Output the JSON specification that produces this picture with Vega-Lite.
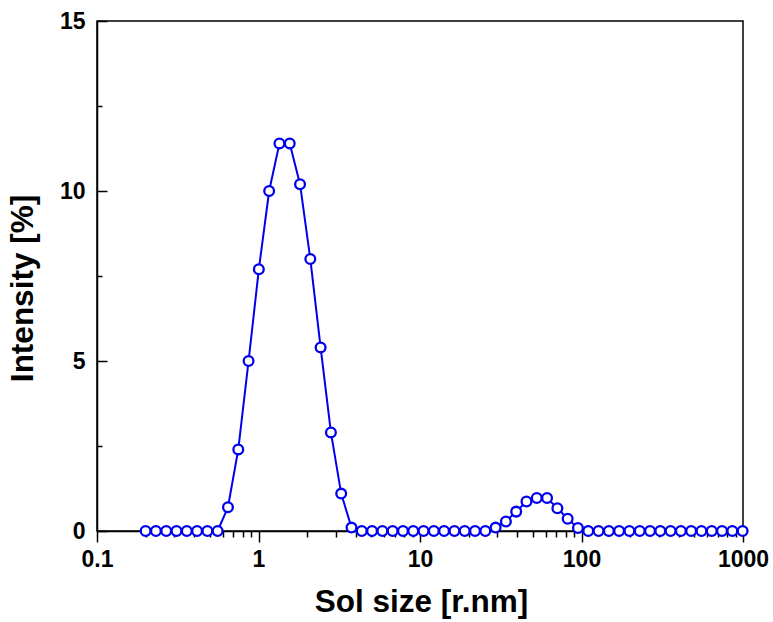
{
  "$schema": "https://vega.github.io/schema/vega-lite/v6.json",
  "width": 646,
  "height": 510,
  "autosize": {"type": "none"},
  "padding": {"left": 97, "top": 21, "right": 30, "bottom": 91},
  "background": "white",
  "config": {
    "view": {"stroke": "black", "strokeWidth": 1.5},
    "axis": {
      "grid": false,
      "domainColor": "black",
      "domainWidth": 1.5,
      "tickColor": "black",
      "tickWidth": 1.5,
      "labelFont": "Liberation Sans",
      "labelFontWeight": "bold",
      "labelFontSize": 23,
      "labelColor": "black",
      "titleFont": "Liberation Sans",
      "titleFontWeight": "bold",
      "titleFontSize": 31.5,
      "titleColor": "black"
    }
  },
  "data": {
    "values": [
      {"size": 0.2, "intensity": 0},
      {"size": 0.2316, "intensity": 0},
      {"size": 0.2683, "intensity": 0},
      {"size": 0.3107, "intensity": 0},
      {"size": 0.3598, "intensity": 0},
      {"size": 0.4166, "intensity": 0},
      {"size": 0.4825, "intensity": 0},
      {"size": 0.5586, "intensity": 0},
      {"size": 0.647, "intensity": 0.7},
      {"size": 0.7495, "intensity": 2.4},
      {"size": 0.868, "intensity": 5.0},
      {"size": 1.005, "intensity": 7.7},
      {"size": 1.164, "intensity": 10.0},
      {"size": 1.348, "intensity": 11.4},
      {"size": 1.561, "intensity": 11.4},
      {"size": 1.808, "intensity": 10.2},
      {"size": 2.093, "intensity": 8.0},
      {"size": 2.424, "intensity": 5.4},
      {"size": 2.808, "intensity": 2.9},
      {"size": 3.251, "intensity": 1.1},
      {"size": 3.766, "intensity": 0.1},
      {"size": 4.361, "intensity": 0},
      {"size": 5.05, "intensity": 0},
      {"size": 5.85, "intensity": 0},
      {"size": 6.77, "intensity": 0},
      {"size": 7.845, "intensity": 0},
      {"size": 9.085, "intensity": 0},
      {"size": 10.52, "intensity": 0},
      {"size": 12.18, "intensity": 0},
      {"size": 14.1, "intensity": 0},
      {"size": 16.34, "intensity": 0},
      {"size": 18.92, "intensity": 0},
      {"size": 21.91, "intensity": 0},
      {"size": 25.38, "intensity": 0},
      {"size": 29.39, "intensity": 0.1},
      {"size": 34.03, "intensity": 0.28},
      {"size": 39.41, "intensity": 0.57},
      {"size": 45.64, "intensity": 0.87},
      {"size": 52.85, "intensity": 0.97},
      {"size": 61.2, "intensity": 0.97},
      {"size": 70.9, "intensity": 0.67},
      {"size": 82.1, "intensity": 0.36},
      {"size": 95.05, "intensity": 0.09},
      {"size": 110.1, "intensity": 0},
      {"size": 127.5, "intensity": 0},
      {"size": 147.7, "intensity": 0},
      {"size": 171, "intensity": 0},
      {"size": 198, "intensity": 0},
      {"size": 229.4, "intensity": 0},
      {"size": 265.6, "intensity": 0},
      {"size": 307.6, "intensity": 0},
      {"size": 356.2, "intensity": 0},
      {"size": 412.5, "intensity": 0},
      {"size": 477.7, "intensity": 0},
      {"size": 553, "intensity": 0},
      {"size": 640.5, "intensity": 0},
      {"size": 741.7, "intensity": 0},
      {"size": 858.9, "intensity": 0},
      {"size": 994.6, "intensity": 0}
    ]
  },
  "encoding": {
    "x": {
      "field": "size",
      "type": "quantitative",
      "scale": {"type": "log", "domain": [0.1, 1000], "nice": false},
      "axis": {
        "title": "Sol size [r.nm]",
        "values": [0.1, 0.2, 0.3, 0.4, 0.5, 0.6, 0.7, 0.8, 0.9, 1, 2, 3, 4, 5, 6, 7, 8, 9, 10, 20, 30, 40, 50, 60, 70, 80, 90, 100, 200, 300, 400, 500, 600, 700, 800, 900, 1000],
        "labelExpr": "indexof([0.1, 1, 10, 100, 1000], datum.value) >= 0 ? format(datum.value, '~g') : ''",
        "tickSize": {"condition": {"test": "indexof([0.1, 1, 10, 100, 1000], datum.value) >= 0", "value": 11}, "value": 6},
        "labelPadding": 6,
        "labelFlush": false,
        "labelOverlap": false,
        "titleX": 324,
        "titleY": 80,
        "titleBaseline": "alphabetic",
        "titleAlign": "center"
      }
    },
    "y": {
      "field": "intensity",
      "type": "quantitative",
      "scale": {"domain": [0, 15], "nice": false},
      "axis": {
        "title": "Intensity [%]",
        "values": [0, 2.5, 5, 7.5, 10, 12.5, 15],
        "labelExpr": "indexof([0, 5, 10, 15], datum.value) >= 0 ? format(datum.value, '~g') : ''",
        "tickSize": {"condition": {"test": "indexof([0, 5, 10, 15], datum.value) >= 0", "value": -10}, "value": -5},
        "labelPadding": 22,
        "labelFlush": false,
        "labelOverlap": false,
        "titleX": -65,
        "titleY": 267,
        "titleAngle": -90,
        "titleBaseline": "alphabetic",
        "titleAlign": "center"
      }
    }
  },
  "layer": [
    {"mark": {"type": "line", "color": "#0000ee", "strokeWidth": 2}},
    {"mark": {"type": "point", "shape": "circle", "filled": false, "fill": "white", "fillOpacity": 1, "stroke": "#0000ee", "strokeWidth": 2.3, "size": 95, "opacity": 1}}
  ]
}
